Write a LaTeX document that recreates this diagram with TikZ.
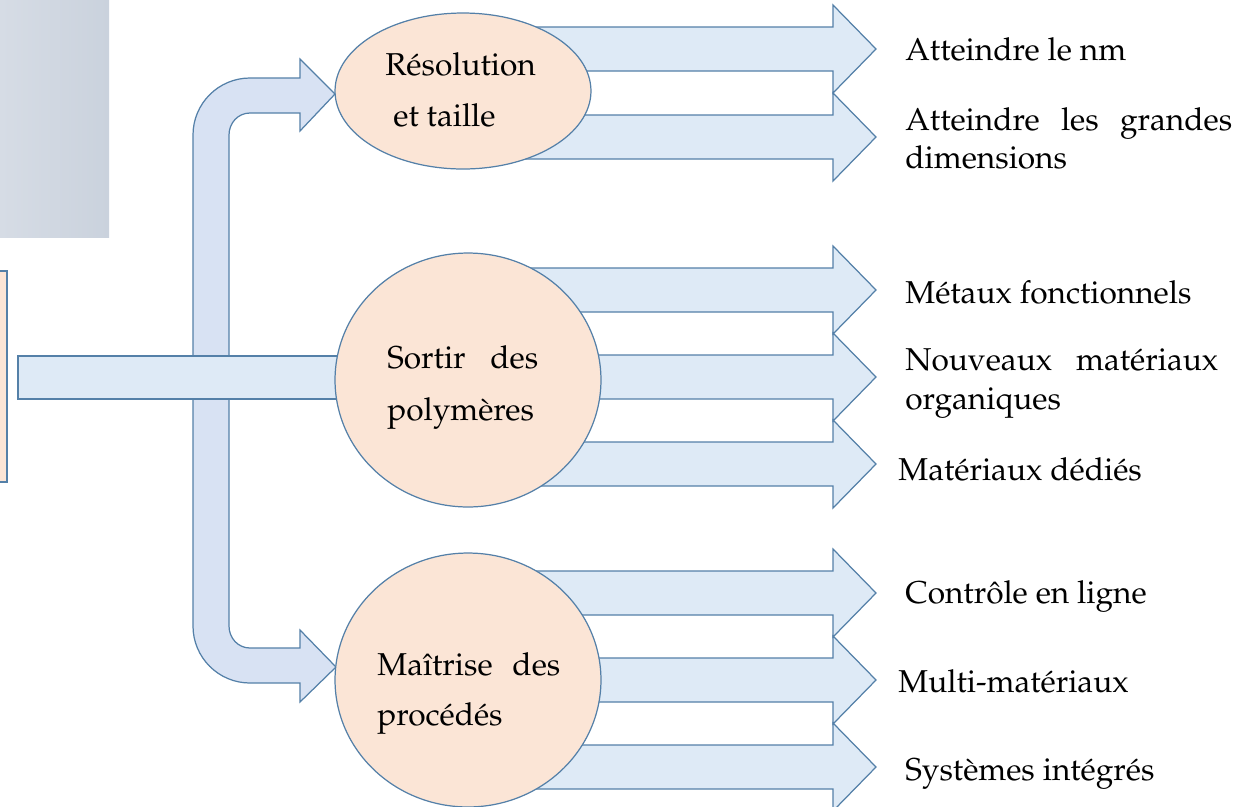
\documentclass[tikz,border=0pt]{standalone}
\usepackage[T1]{fontenc}
\usepackage{mathpazo}
\usetikzlibrary{shapes.geometric}
\definecolor{lineblue}{RGB}{84,128,168}
\definecolor{barfill}{RGB}{222,234,246}
\definecolor{bendfill}{RGB}{216,226,243}
\definecolor{peach}{RGB}{251,229,214}
\tikzstyle{bar}=[draw=lineblue, fill=barfill, line width=0.7pt, line join=miter]
\tikzstyle{goal}=[draw=lineblue, fill=peach, ellipse, line width=0.7pt, inner sep=0pt]
\tikzstyle{item}=[anchor=base west, inner sep=0pt, font=\fontsize{18}{21.6}\selectfont]

% fat arrow from x=#1 to its tip at x=#2, centred on y=#3
\newcommand{\fatarrow}[3]{%
  \draw[bar] (#1,#3-22) -- (#2-43,#3-22) -- (#2-43,#3-44) -- (#2,#3)
    -- (#2-43,#3+44) -- (#2-43,#3+22) -- (#1,#3+22) -- cycle;}

\begin{document}
\begin{tikzpicture}[x=0.02cm,y=-0.02cm]
  \useasboundingbox (0,0) rectangle (1251,806);
  \clip (0,0) rectangle (1251,806);
  % grey panel and peach frame cut by the page edge
  \shade[left color={rgb,255:red,214;green,220;blue,229}, right color={rgb,255:red,202;green,210;blue,221}] (0,0) rectangle (109,237);
  \draw[draw=lineblue, fill=peach, line width=0.7pt] (-10,271) rectangle (7,482);

  % bent arrow feeding the top and bottom goals
  \draw[bar, fill=bendfill] (300,59) -- (335,94) -- (300,131) -- (300,113) -- (250,113)
    .. controls (238,113) and (229,123) .. (229,135) -- (229,626)
    .. controls (229,638) and (238,648) .. (250,648) -- (300,648) -- (300,630)
    -- (336,667) -- (300,702) -- (300,683) -- (250,683)
    .. controls (218.5,683) and (193,657.5) .. (193,626) -- (193,135)
    .. controls (193,103.5) and (218.5,78) .. (250,78) -- (300,78) -- cycle;
  \draw[bar] (18,356) rectangle (470,399);

  \foreach \y in {49,137,290,377,464,593,680,767}
    \fatarrow{470}{876}{\y};

  \node[goal, minimum width=5.12cm, minimum height=3.12cm] (taille) at (463,91) {};
  \node[goal, minimum width=5.32cm, minimum height=5.08cm] (poly) at (468,380) {};
  \node[goal, minimum width=5.32cm, minimum height=5.08cm] (proc) at (468,680) {};

  % texts inside the goals
  \node[item] (taille1) at (385,75) {Résolution};
  \node[item] (taille2) at (393,126) {et taille};
  \node[item] (poly1) at (387,368) {\makebox[3.02cm][s]{Sortir des}};
  \node[item] (poly2) at (387,420) {polymères};
  \node[item] (proc1) at (377,675) {\makebox[3.66cm][s]{Maîtrise des}};
  \node[item] (proc2) at (377,725) {procédés};

  % outcomes
  \node[item] (nm) at (905,60) {Atteindre le nm};
  \node[item] (dim1) at (905,130) {\makebox[6.54cm][s]{Atteindre les grandes}};
  \node[item] (dim2) at (905,168) {dimensions};
  \node[item] (metal) at (905,303) {Métaux fonctionnels};
  \node[item] (orga1) at (905,370) {\makebox[6.26cm][s]{Nouveaux matériaux}};
  \node[item] (orga2) at (905,409) {organiques};
  \node[item] (dedie) at (898,480) {Matériaux dédiés};
  \node[item] (ligne) at (905,603) {Contrôle en ligne};
  \node[item] (multi) at (898,692) {Multi-matériaux};
  \node[item] (integ) at (905,780) {Systèmes intégrés};
\end{tikzpicture}
\end{document}
